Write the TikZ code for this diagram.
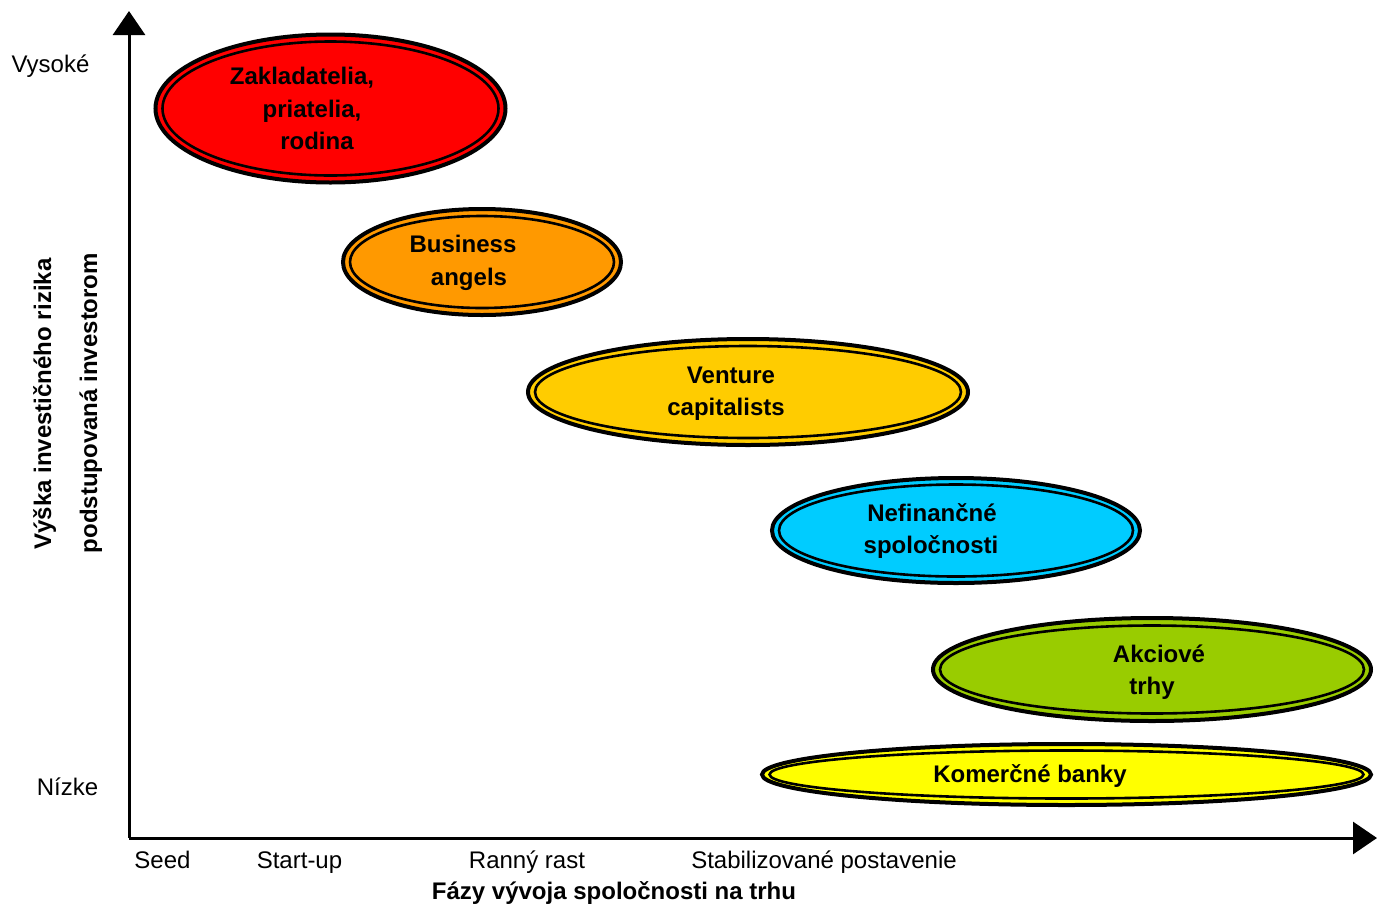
\documentclass[tikz,border=0pt]{standalone}
\usepackage{fontspec}
\setmainfont{Liberation Sans}
\usetikzlibrary{shapes.geometric,arrows.meta}
\definecolor{cRed}{RGB}{255,0,0}
\definecolor{cOrange}{RGB}{255,153,0}
\definecolor{cGold}{RGB}{255,204,0}
\definecolor{cCyan}{RGB}{0,204,255}
\definecolor{cGreen}{RGB}{153,204,0}
\definecolor{cYellow}{RGB}{255,255,0}
\tikzset{
  ell/.style={ellipse, draw=black, line width=4pt, inner sep=0pt, outer sep=0pt},
  innerell/.style={draw=black, line width=2.6pt},
  lbl/.style={font=\fontsize{24}{28}\selectfont\bfseries, inner sep=0pt, anchor=center, text height=17.2pt, text depth=0pt},
  axlbl/.style={font=\fontsize{24}{28}\selectfont, inner sep=0pt, anchor=center, text height=17.2pt, text depth=0pt},
  axis/.style={line width=3pt, -{Triangle[length=24pt,width=32pt]}}
}
\begin{document}
\begin{tikzpicture}[x=1pt,y=-1pt]
\useasboundingbox (0,0) rectangle (1377,903);
% axes
\coordinate (O) at (129,838);
\coordinate (ytip) at (129,11);
\coordinate (xtip) at (1377,838);
\draw[axis] (O) -- (ytip);
\draw[axis] (O) -- (xtip);
% ellipses
\node[ell, fill=cRed, minimum width=350pt, minimum height=148pt] (e1) at (330.5,108.5) {};
\draw[innerell] (e1.center) ellipse [x radius=168pt, y radius=67pt];
\node[ell, fill=cOrange, minimum width=278pt, minimum height=106pt] (e2) at (482,262) {};
\draw[innerell] (e2.center) ellipse [x radius=132pt, y radius=46pt];
\node[ell, fill=cGold, minimum width=440pt, minimum height=106pt] (e3) at (748,392) {};
\draw[innerell] (e3.center) ellipse [x radius=213pt, y radius=46pt];
\node[ell, fill=cCyan, minimum width=368pt, minimum height=105pt] (e4) at (956,530.5) {};
\draw[innerell] (e4.center) ellipse [x radius=177pt, y radius=46pt];
\node[ell, fill=cGreen, minimum width=438pt, minimum height=103pt] (e5) at (1152,669.5) {};
\draw[innerell] (e5.center) ellipse [x radius=212pt, y radius=44pt];
\node[ell, fill=cYellow, minimum width=609pt, minimum height=61pt] (e6) at (1066.5,774.5) {};
\draw[innerell] (e6.center) ellipse [x radius=297pt, y radius=24pt];
% ellipse texts
\node[lbl] (t1a) at (302,76) {Zakladatelia,};
\node[lbl] (t1b) at (312,109) {priatelia,};
\node[lbl] (t1c) at (317,141) {rodina};
\node[lbl] (t2a) at (463,244) {Business};
\node[lbl] (t2b) at (469,277) {angels};
\node[lbl] (t3a) at (731,375) {Venture};
\node[lbl] (t3b) at (726,407) {capitalists};
\node[lbl] (t4a) at (932,513) {Nefinančné};
\node[lbl] (t4b) at (931,545) {spoločnosti};
\node[lbl] (t5a) at (1159,654) {Akciové};
\node[lbl] (t5b) at (1152,686) {trhy};
\node[lbl] (t6) at (1030,774) {Komerčné banky};
% axis labels
\node[axlbl] (vys) at (50.5,64) {Vysoké};
\node[axlbl] (niz) at (67.5,787) {Nízke};
\node[axlbl] (seed) at (162.5,860) {Seed};
\node[axlbl] (start) at (299.5,860) {Start-up};
\node[axlbl] (rast) at (527,860) {Ranný rast};
\node[axlbl] (stab) at (824,860) {Stabilizované postavenie};
\node[lbl] (xt) at (614,891) {Fázy vývoja spoločnosti na trhu};
\node[lbl, rotate=90] (yt1) at (42.5,404) {Výška investičného rizika};
\node[lbl, rotate=90] (yt2) at (88.5,403) {podstupovaná investorom};
\end{tikzpicture}
\end{document}
